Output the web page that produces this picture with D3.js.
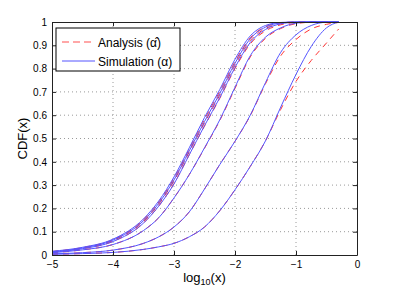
<!DOCTYPE html>
<html>
<head>
<meta charset="utf-8">
<script src="https://cdn.jsdelivr.net/npm/d3@7"></script>
<style>
  body { margin: 0; background: #fff; }
  svg { display: block; }
</style>
</head>
<body>
<svg id="chart" width="395" height="292"></svg>
<script>
// values: log10(x) grid and CDF of each curve
var xs = [-5, -4.5, -4, -3.5, -3.25, -3, -2.75, -2.5, -2.25, -2, -1.75, -1.5, -1.25, -1, -0.75, -0.5, -0.3];

// simulation (solid blue)
var sim1 = [0.016, 0.033, 0.068, 0.155, 0.232, 0.335, 0.46, 0.59, 0.71, 0.84, 0.94, 0.985, 0.998, 1, 1, 1, 1];
var sim2 = [0.014, 0.03, 0.064, 0.147, 0.222, 0.322, 0.447, 0.573, 0.693, 0.823, 0.928, 0.978, 0.996, 1, 1, 1, 1];
var sim3 = [0.012, 0.027, 0.058, 0.137, 0.21, 0.305, 0.43, 0.555, 0.675, 0.805, 0.912, 0.968, 0.992, 0.999, 1, 1, 1];
var sim4 = [0.01, 0.022, 0.045, 0.105, 0.16, 0.245, 0.345, 0.46, 0.58, 0.72, 0.855, 0.935, 0.975, 0.995, 1, 1, 1];
var sim5 = [0.005, 0.01, 0.021, 0.05, 0.078, 0.12, 0.185, 0.283, 0.388, 0.488, 0.6, 0.74, 0.87, 0.945, 0.985, 0.999, 1];
var sim6 = [0.003, 0.006, 0.011, 0.024, 0.035, 0.05, 0.078, 0.12, 0.19, 0.28, 0.38, 0.49, 0.635, 0.775, 0.895, 0.975, 1];

// analysis (dashed red)
var ana1 = [0.015, 0.032, 0.066, 0.151, 0.227, 0.329, 0.454, 0.582, 0.702, 0.83, 0.932, 0.98, 0.996, 1, 1, 1, 1];
var ana2 = [0.014, 0.03, 0.062, 0.144, 0.218, 0.318, 0.442, 0.567, 0.686, 0.815, 0.92, 0.972, 0.993, 0.999, 1, 1, 1];
var ana3 = [0.012, 0.027, 0.058, 0.137, 0.21, 0.306, 0.43, 0.553, 0.672, 0.8, 0.906, 0.962, 0.988, 0.998, 1, 1, 1];
var ana4 = [0.01, 0.022, 0.045, 0.105, 0.16, 0.245, 0.345, 0.458, 0.577, 0.715, 0.85, 0.93, 0.972, 0.993, 0.999, 1, 1];
var ana5 = [0.005, 0.01, 0.021, 0.05, 0.078, 0.12, 0.185, 0.283, 0.388, 0.488, 0.598, 0.735, 0.855, 0.925, 0.97, 0.99, 0.998];
var ana6 = [0.003, 0.006, 0.011, 0.024, 0.035, 0.05, 0.078, 0.12, 0.19, 0.28, 0.38, 0.49, 0.625, 0.745, 0.835, 0.91, 0.97];

var simSeries = [sim1, sim2, sim3, sim4, sim5, sim6];
var anaSeries = [ana1, ana2, ana3, ana4, ana5, ana6];

var xTicks = [-5, -4, -3, -2, -1, 0];
var yTicks = [0, 0.1, 0.2, 0.3, 0.4, 0.5, 0.6, 0.7, 0.8, 0.9, 1];
var legendLabels = ["Analysis (\u03B1\u0302)", "Simulation (\u03B1)"];

var margin = {top: 22, right: 38, bottom: 37, left: 52},
    width = 395 - margin.left - margin.right,
    height = 292 - margin.top - margin.bottom;

var font = "Arial, 'Liberation Sans', Helvetica, sans-serif";
var blue = "#5555ff", red = "#ff3535";

var svg = d3.select("#chart");
var g = svg.append("g")
    .attr("transform", "translate(" + margin.left + "," + margin.top + ")");

var x = d3.scaleLinear().domain([-5, 0]).range([0, width]);
var y = d3.scaleLinear().domain([0, 1]).range([height, 0]);

// dotted grid
g.append("g").selectAll("line")
    .data(xTicks.slice(1, -1))
    .enter().append("line")
    .attr("x1", d => x(d)).attr("x2", d => x(d))
    .attr("y1", 0).attr("y2", height)
    .attr("stroke", "#9a9a9a")
    .attr("stroke-dasharray", "1,3");
g.append("g").selectAll("line")
    .data(yTicks.slice(1, -1))
    .enter().append("line")
    .attr("x1", 0).attr("x2", width)
    .attr("y1", d => y(d)).attr("y2", d => y(d))
    .attr("stroke", "#9a9a9a")
    .attr("stroke-dasharray", "1,3");

// curves
g.append("clipPath").attr("id", "clip")
    .append("rect").attr("width", width).attr("height", height + 1).attr("y", -1);

var line = d3.line()
    .x((d, i) => x(xs[i]))
    .y(d => y(d))
    .curve(d3.curveMonotoneX);

var curves = g.append("g").attr("clip-path", "url(#clip)");
curves.selectAll(".ana")
    .data(anaSeries)
    .enter().append("path")
    .attr("class", "ana")
    .attr("d", line)
    .attr("fill", "none")
    .attr("stroke", red)
    .attr("stroke-width", 1)
    .attr("stroke-dasharray", "6,5");
curves.selectAll(".sim")
    .data(simSeries)
    .enter().append("path")
    .attr("class", "sim")
    .attr("d", line)
    .attr("fill", "none")
    .attr("stroke", blue)
    .attr("stroke-width", 1);

// axes, matlab style: inward ticks on all four sides
function styleAxis(sel) {
    sel.attr("font-family", font).attr("font-size", 10);
    sel.selectAll("path, line").attr("stroke", "#222");
    sel.selectAll("text").attr("fill", "#000");
}

g.append("g")
    .attr("transform", "translate(0," + height + ")")
    .call(d3.axisBottom(x).tickValues(xTicks).tickFormat(d3.format("~g")).tickSizeInner(-4).tickSizeOuter(0).tickPadding(6))
    .call(styleAxis);
g.append("g")
    .call(d3.axisLeft(y).tickValues(yTicks).tickFormat(d3.format("~g")).tickSizeInner(-4).tickSizeOuter(0).tickPadding(5))
    .call(styleAxis);
g.append("g")
    .call(d3.axisTop(x).tickValues(xTicks).tickFormat("").tickSizeInner(-4).tickSizeOuter(0))
    .call(styleAxis);
g.append("g")
    .attr("transform", "translate(" + width + ",0)")
    .call(d3.axisRight(y).tickValues(yTicks).tickFormat("").tickSizeInner(-4).tickSizeOuter(0))
    .call(styleAxis);

// axis labels
svg.append("text")
    .attr("transform", "translate(27," + (margin.top + height / 2) + ") rotate(-90)")
    .attr("text-anchor", "middle")
    .attr("font-family", font)
    .attr("font-size", 13)
    .text("CDF(x)");

var xl = svg.append("text")
    .attr("x", margin.left + width / 2)
    .attr("y", 282)
    .attr("text-anchor", "middle")
    .attr("font-family", font)
    .attr("font-size", 13);
xl.append("tspan").text("log");
xl.append("tspan").attr("font-size", 9).attr("dy", 3).text("10");
xl.append("tspan").attr("dy", -3).text("(x)");

// legend
var lg = svg.append("g").attr("transform", "translate(56,28)");
lg.append("rect")
    .attr("width", 124).attr("height", 43)
    .attr("fill", "#fff").attr("stroke", "#000").attr("stroke-width", 1);
var items = lg.selectAll(".item")
    .data(legendLabels)
    .enter().append("g")
    .attr("class", "item")
    .attr("transform", (d, i) => "translate(0," + (14 + i * 19) + ")");
items.append("line")
    .attr("x1", 6).attr("x2", 39)
    .attr("stroke", (d, i) => i === 0 ? "#ff8a8a" : blue)
    .attr("stroke-width", (d, i) => i === 0 ? 1.5 : 1)
    .attr("stroke-dasharray", (d, i) => i === 0 ? "7,4" : null);
items.append("text")
    .attr("x", 42).attr("y", 4.5)
    .attr("font-family", font)
    .attr("font-size", 12)
    .text(d => d);
</script>
</body>
</html>
